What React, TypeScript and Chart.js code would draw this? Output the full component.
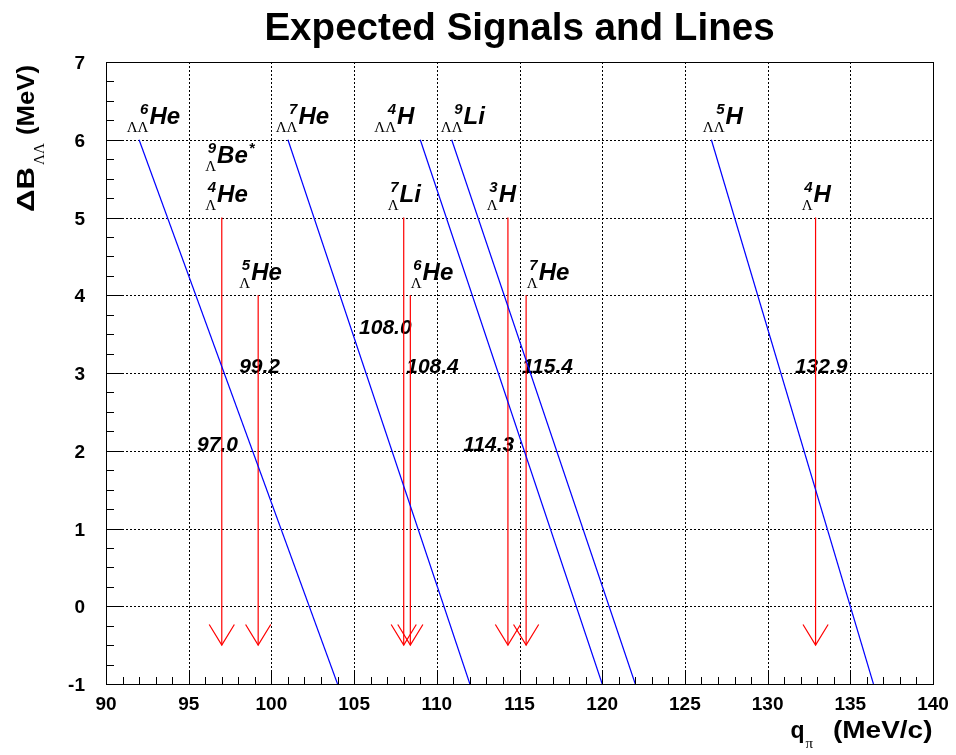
import React, { useEffect, useRef } from 'react';
import { Chart, registerables } from 'chart.js';

Chart.register(...registerables);

// ---- axes ----
const xTicks = [90, 95, 100, 105, 110, 115, 120, 125, 130, 135, 140];
const yTicks = [-1, 0, 1, 2, 3, 4, 5, 6, 7];

// ---- ΛΛ hypernuclei: expected-signal lines ----
const llMass = ['6', '7', '4', '9', '5'];
const llElem = ['He', 'He', 'H', 'Li', 'H'];
const llLineTopQ = [92.0, 101.0, 109.0, 110.9, 126.6];
const llLineBottomQ = [104.0, 112.0, 120.0, 122.0, 136.4];
const llLineTopB = 6;
const llLineBottomB = -1;
const llLabelQ = [91.25, 100.26, 106.22, 110.24, 126.08];
const llLabelB = [6.2, 6.2, 6.2, 6.2, 6.2];

// ---- Λ hypernuclei labels ----
const lMass = ['9', '4', '5', '7', '6', '3', '7', '4'];
const lElem = ['Be', 'He', 'He', 'Li', 'He', 'H', 'He', 'H'];
const lStar = [true, false, false, false, false, false, false, false];
const lLabelQ = [96.0, 96.0, 98.06, 107.03, 108.42, 113.02, 115.44, 132.06];
const lLabelB = [5.7, 5.2, 4.2, 5.2, 4.2, 5.2, 4.2, 5.2];

// ---- single-Λ decay lines (arrows) ----
const arrowQ = [97.0, 99.2, 108.0, 108.4, 114.3, 115.4, 132.9];
const arrowTopB = [5, 4, 5, 4, 5, 4, 5];
const arrowTipB = -0.5;
const arrowLabelQ = [95.5, 98.05, 105.3, 108.15, 111.6, 115.15, 131.65];
const arrowLabelB = [2, 3, 3.5, 3, 2, 3, 3];

const SANS = "'Liberation Sans', Arial, Helvetica, sans-serif";
const SERIF = "'Liberation Serif', 'Times New Roman', serif";
const BLUE = '#0000ff';
const RED = '#ff0000';

function drawNuclide(ctx: CanvasRenderingContext2D, px: number, py: number, mass: string, sub: string, elem: string, star: boolean) {
  const supFont = `italic bold 15px ${SANS}`;
  const subFont = `15px ${SERIF}`;
  const mainFont = `italic bold 24px ${SANS}`;
  ctx.font = supFont;
  const wSup = ctx.measureText(mass).width;
  ctx.font = subFont;
  const wSub = ctx.measureText(sub).width;
  const w = Math.max(wSup, wSub);
  ctx.fillStyle = '#000';
  ctx.textBaseline = 'alphabetic';
  ctx.textAlign = 'right';
  ctx.font = subFont;
  ctx.fillText(sub, px + w, py + 8);
  ctx.font = supFont;
  ctx.fillText(mass, px + w, py - 10);
  ctx.textAlign = 'left';
  ctx.font = mainFont;
  ctx.fillText(elem, px + w + 1, py);
  if (star) {
    const we = ctx.measureText(elem).width;
    ctx.font = supFont;
    ctx.fillText('*', px + w + 2 + we, py - 10);
  }
}

function fitText(ctx: CanvasRenderingContext2D, text: string, x: number, y: number, targetW: number) {
  const nat = ctx.measureText(text).width;
  ctx.save();
  ctx.translate(x, y);
  ctx.scale(targetW / nat, 1);
  ctx.textAlign = 'left';
  ctx.fillText(text, 0, 0);
  ctx.restore();
}

const rootPlugin = {
  id: 'rootStyle',
  beforeDraw(chart: any) {
    const ctx = chart.ctx as CanvasRenderingContext2D;
    ctx.save();
    ctx.fillStyle = '#fff';
    ctx.fillRect(0, 0, chart.width, chart.height);
    ctx.restore();
  },
  beforeDatasetsDraw(chart: any) {
    const ctx = chart.ctx as CanvasRenderingContext2D;
    const xs = chart.scales.x;
    const ys = chart.scales.y;
    const a = chart.chartArea;
    ctx.save();
    // dotted grid
    ctx.strokeStyle = '#000';
    ctx.lineWidth = 1;
    ctx.setLineDash([2, 2]);
    xTicks.forEach((v) => {
      const px = Math.round(xs.getPixelForValue(v)) + 0.5;
      ctx.beginPath();
      ctx.moveTo(px, a.top);
      ctx.lineTo(px, a.bottom);
      ctx.stroke();
    });
    yTicks.forEach((v) => {
      const py = Math.round(ys.getPixelForValue(v)) + 0.5;
      ctx.beginPath();
      ctx.moveTo(a.left, py);
      ctx.lineTo(a.right, py);
      ctx.stroke();
    });
    ctx.setLineDash([]);

    // labels
    llMass.forEach((m, i) => {
      drawNuclide(ctx, xs.getPixelForValue(llLabelQ[i]), ys.getPixelForValue(llLabelB[i]), m, '\u039B\u039B', llElem[i], false);
    });
    lMass.forEach((m, i) => {
      drawNuclide(ctx, xs.getPixelForValue(lLabelQ[i]), ys.getPixelForValue(lLabelB[i]), m, '\u039B', lElem[i], lStar[i]);
    });
    ctx.font = `italic bold 21px ${SANS}`;
    ctx.textAlign = 'left';
    ctx.textBaseline = 'alphabetic';
    ctx.fillStyle = '#000';
    arrowQ.forEach((q, i) => {
      ctx.fillText(q.toFixed(1), xs.getPixelForValue(arrowLabelQ[i]), ys.getPixelForValue(arrowLabelB[i]));
    });
    ctx.restore();
  },
  afterDatasetsDraw(chart: any) {
    const ctx = chart.ctx as CanvasRenderingContext2D;
    const xs = chart.scales.x;
    const ys = chart.scales.y;
    const a = chart.chartArea;
    ctx.save();
    ctx.strokeStyle = '#000';
    ctx.lineWidth = 1;
    // frame
    ctx.strokeRect(Math.round(a.left) + 0.5, Math.round(a.top) + 0.5, Math.round(a.right - a.left), Math.round(a.bottom - a.top));
    // x ticks (inside)
    const xMin = xTicks[0], xMax = xTicks[xTicks.length - 1];
    for (let i = 0; i <= (xMax - xMin); i++) {
      const v = xMin + i;
      const px = Math.round(xs.getPixelForValue(v)) + 0.5;
      const len = i % 5 === 0 ? 14 : 7;
      ctx.beginPath();
      ctx.moveTo(px, a.bottom);
      ctx.lineTo(px, a.bottom - len);
      ctx.stroke();
    }
    // y ticks (inside)
    const yMin = yTicks[0], yMax = yTicks[yTicks.length - 1];
    for (let i = 0; i <= (yMax - yMin) * 4; i++) {
      const v = yMin + i * 0.25;
      const py = Math.round(ys.getPixelForValue(v)) + 0.5;
      const len = i % 4 === 0 ? 17 : 8;
      ctx.beginPath();
      ctx.moveTo(a.left, py);
      ctx.lineTo(a.left + len, py);
      ctx.stroke();
    }
    // tick labels
    ctx.fillStyle = '#000';
    ctx.font = `bold 19px ${SANS}`;
    ctx.textAlign = 'center';
    ctx.textBaseline = 'alphabetic';
    xTicks.forEach((v) => {
      ctx.fillText(String(v), xs.getPixelForValue(v), a.bottom + 26);
    });
    ctx.textAlign = 'right';
    yTicks.forEach((v) => {
      ctx.fillText(String(v), a.left - 21, ys.getPixelForValue(v) + 7);
    });

    // title
    ctx.font = `bold 38.6px ${SANS}`;
    ctx.textAlign = 'center';
    ctx.fillText('Expected Signals and Lines', (a.left + a.right) / 2, 40);

    // x axis title: q_π (MeV/c)
    ctx.textAlign = 'left';
    ctx.font = `bold 23px ${SANS}`;
    ctx.fillText('q', 790.5, 738);
    const wq = ctx.measureText('q').width;
    ctx.font = `15px ${SERIF}`;
    ctx.fillText('\u03C0', 790.5 + wq + 1, 748);
    ctx.font = `bold 23px ${SANS}`;
    fitText(ctx, '(MeV/c)', 833, 738, 99.5);

    // y axis title: ΔB_ΛΛ (MeV), rotated
    ctx.save();
    ctx.translate(33.5, 212);
    ctx.rotate(-Math.PI / 2);
    ctx.font = `bold 23px ${SANS}`;
    fitText(ctx, '\u0394B', 0, 0, 45);
    ctx.font = `15px ${SERIF}`;
    ctx.textAlign = 'left';
    ctx.fillText('\u039B\u039B', 47, 10);
    ctx.font = `bold 23px ${SANS}`;
    fitText(ctx, '(MeV)', 77, 0, 70);
    ctx.restore();

    ctx.restore();
  },
};

export default function App() {
  const ref = useRef<HTMLCanvasElement | null>(null);
  useEffect(() => {
    if (!ref.current) return;
    const datasets: any[] = [];
    llLineTopQ.forEach((q, i) => {
      datasets.push({
        data: [{ x: q, y: llLineTopB }, { x: llLineBottomQ[i], y: llLineBottomB }],
        borderColor: BLUE,
        borderWidth: 1.2,
        pointRadius: 0,
        showLine: true,
      });
    });
    const headDx = 0.76;
    const headDy = 0.265;
    arrowQ.forEach((q, i) => {
      datasets.push({
        data: [{ x: q, y: arrowTopB[i] }, { x: q, y: arrowTipB }],
        borderColor: RED,
        borderWidth: 1.2,
        pointRadius: 0,
        showLine: true,
      });
      datasets.push({
        data: [
          { x: q - headDx, y: arrowTipB + headDy },
          { x: q, y: arrowTipB },
          { x: q + headDx, y: arrowTipB + headDy },
        ],
        borderColor: RED,
        borderWidth: 1.2,
        pointRadius: 0,
        showLine: true,
      });
    });
    const chart = new Chart(ref.current, {
      type: 'scatter',
      data: { datasets },
      options: {
        animation: false,
        responsive: false,
        events: [],
        layout: { padding: { left: 106, right: 23, top: 62, bottom: 71 } },
        plugins: { legend: { display: false }, tooltip: { enabled: false } },
        scales: {
          x: { type: 'linear', min: 90, max: 140, display: false },
          y: { type: 'linear', min: -1, max: 7, display: false },
        },
      },
      plugins: [rootPlugin],
    } as any);
    return () => chart.destroy();
  }, []);
  return (
    <div style={{ position: 'absolute', left: 0, top: 0, width: 956, height: 755, background: '#fff' }}>
      <canvas ref={ref} width={956} height={755} style={{ display: 'block' }} />
    </div>
  );
}
